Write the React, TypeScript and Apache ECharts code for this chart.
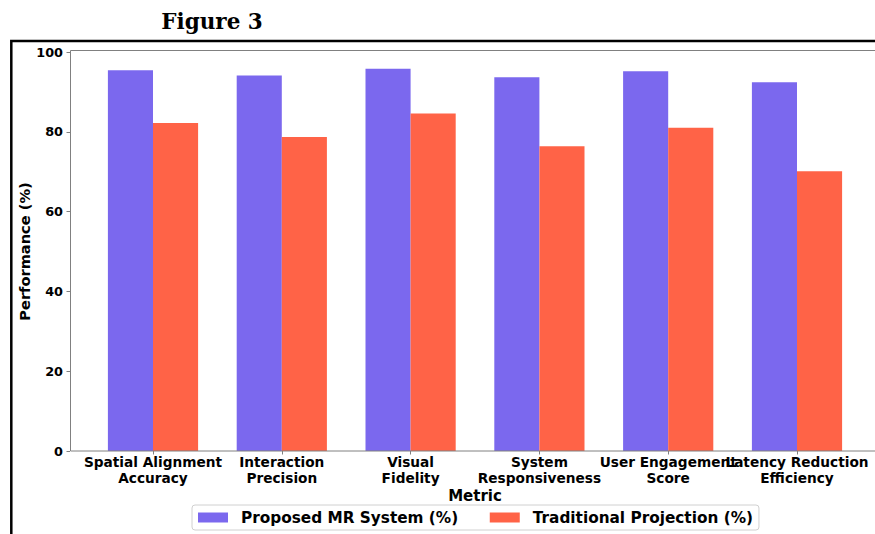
import React, { useEffect, useRef } from 'react';
import * as echarts from 'echarts';

const categories = [
  'Spatial Alignment\nAccuracy',
  'Interaction\nPrecision',
  'Visual\nFidelity',
  'System\nResponsiveness',
  'User Engagement\nScore',
  'Latency Reduction\nEfficiency',
];
const proposed = [95.4, 94.1, 95.8, 93.7, 95.2, 92.4];
const traditional = [82.2, 78.7, 84.6, 76.4, 81.0, 70.1];
const yTicks = [0, 20, 40, 60, 80, 100];
const seriesNames = ['Proposed MR System (%)', 'Traditional Projection (%)'];

const FONT = '"DejaVu Sans", sans-serif';
const SPINE = '#808080';

export default function App() {
  const ref = useRef<HTMLDivElement>(null);
  useEffect(() => {
    if (!ref.current) return;
    const chart = echarts.init(ref.current, null, { renderer: 'svg' });
    chart.setOption({
      animation: false,
      backgroundColor: '#ffffff',
      textStyle: { fontFamily: FONT },
      grid: { left: 88.6, top: 52, width: 772.8, height: 399, containLabel: false },
      xAxis: {
        type: 'category',
        data: categories,
        name: 'Metric',
        nameLocation: 'middle',
        nameGap: 37.5,
        nameMoveOverlap: false,
        nameTextStyle: { fontFamily: FONT, fontWeight: 'bold', fontSize: 15, color: '#000' },
        axisLine: { show: false },
        axisTick: { show: true, alignWithLabel: true, length: 3.5, lineStyle: { color: SPINE } },
        axisLabel: {
          interval: 0,
          hideOverlap: false,
          margin: 3,
          fontFamily: FONT,
          fontWeight: 'bold',
          fontSize: 13.7,
          lineHeight: 16,
          color: '#000',
        },
        splitLine: { show: false },
      },
      yAxis: {
        type: 'value',
        min: 0,
        max: 100,
        interval: 20,
        offset: 18.6,
        name: 'Performance (%)',
        nameLocation: 'middle',
        nameGap: 38.5,
        nameMoveOverlap: false,
        nameRotate: 90,
        nameTextStyle: { fontFamily: FONT, fontWeight: 'bold', fontSize: 14.6, color: '#000' },
        axisLine: { show: false },
        axisTick: { show: true, length: 3.5, lineStyle: { color: SPINE } },
        axisLabel: {
          margin: 7,
          fontFamily: FONT,
          fontWeight: 'bold',
          fontSize: 12.8,
          color: '#000',
          formatter: (v: number) => (yTicks.includes(v) ? String(v) : ''),
        },
        splitLine: { show: false },
      },
      legend: {
        data: seriesNames,
        left: 192,
        top: 505,
        orient: 'horizontal',
        padding: [5, 6, 5, 6],
        itemGap: 31.6,
        itemWidth: 30,
        itemHeight: 10,
        icon: 'rect',
        borderColor: '#d0d0d0',
        borderWidth: 1,
        borderRadius: 3,
        textStyle: {
          fontFamily: FONT,
          fontWeight: 'bold',
          fontSize: 15.3,
          color: '#000',
          padding: [0, 0, 0, 8],
        },
      },
      series: [
        {
          name: seriesNames[0],
          type: 'bar',
          data: proposed,
          barWidth: 45.1,
          barGap: '0%',
          itemStyle: { color: '#7B68EE' },
        },
        {
          name: seriesNames[1],
          type: 'bar',
          data: traditional,
          barWidth: 45.1,
          barGap: '0%',
          itemStyle: { color: '#FF6347' },
        },
      ],
      graphic: [
        {
          type: 'text',
          x: 212,
          y: 21,
          style: {
            text: 'Figure 3',
            fontFamily: '"DejaVu Serif", serif',
            fontWeight: 'bold',
            fontSize: 21.5,
            fill: '#000',
            align: 'center',
            verticalAlign: 'middle',
          },
        },
        {
          type: 'rect',
          shape: { x: 11.3, y: 41, width: 1000, height: 1000 },
          style: { fill: 'none', stroke: '#000', lineWidth: 2.5 },
          silent: true,
        },
        {
          type: 'rect',
          shape: { x: 70.5, y: 50.5, width: 810, height: 400.5 },
          style: { fill: 'none', stroke: SPINE, lineWidth: 1 },
          silent: true,
          z: 10,
        },
      ],
    });
    return () => chart.dispose();
  }, []);
  return (
    <div
      ref={ref}
      style={{ position: 'fixed', left: 0, top: 0, width: 875, height: 534, background: '#fff' }}
    />
  );
}
